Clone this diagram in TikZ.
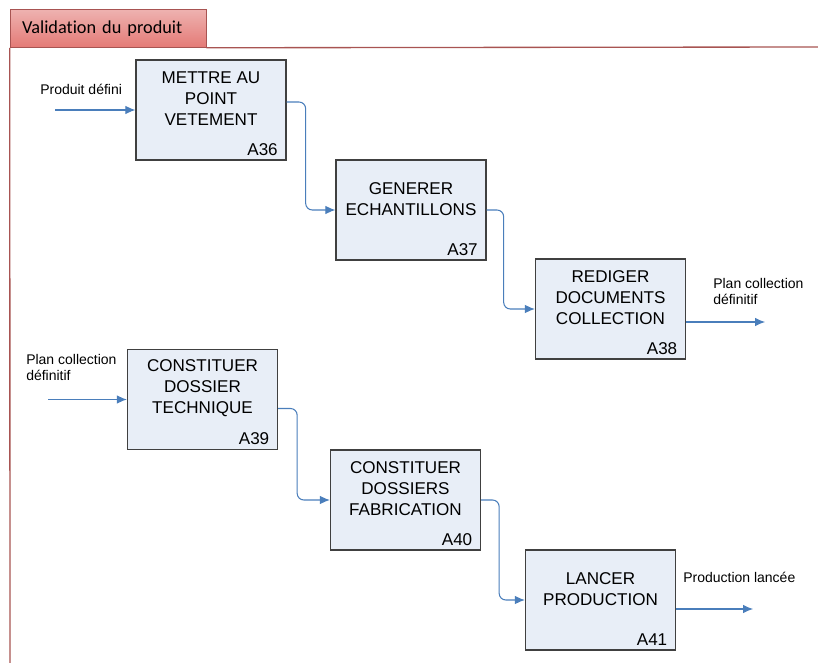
\documentclass[tikz,border=0pt]{standalone}
\usepackage{fontspec}
\setmainfont{Liberation Sans}
\newfontfamily\titlefont[Ligatures=NoCommon]{Carlito}
\usetikzlibrary{arrows.meta, positioning, calc}
\definecolor{boxfill}{RGB}{232,238,247}
\definecolor{boxline}{RGB}{64,64,64}
\definecolor{flowblue}{RGB}{74,126,187}
\definecolor{framered}{RGB}{168,84,82}
\definecolor{tabtop}{RGB}{238,178,176}
\definecolor{tabmid}{RGB}{198,76,72}
\definecolor{tabbot}{RGB}{228,122,118}

\begin{document}
\begin{tikzpicture}[x=0.75pt, y=-0.75pt,
  act/.style={draw=boxline, fill=boxfill, line width=1pt, minimum width=112.5pt, minimum height=75pt, inner sep=0pt},
  acttext/.style={align=center, font=\fontsize{12.8}{15.75}\selectfont},
  code/.style={anchor=base east, inner sep=0pt, font=\fontsize{12.8}{15}\selectfont},
  flow/.style={draw=flowblue, line width=0.8pt, rounded corners=5pt, -{Latex[length=7.5pt,width=6.5pt]}},
  lbl/.style={anchor=north west, inner sep=0pt, align=left, font=\fontsize{10.5}{12}\selectfont},
  frame/.style={framered, line width=1pt}]
\useasboundingbox (0,0) rectangle (818,663);
% Header tab + frame
\node[draw=framered, top color=tabtop, middle color=tabmid, bottom color=tabbot, text width=129pt, inner xsep=9pt, minimum height=28.5pt, inner ysep=0pt, align=left, font=\titlefont\fontsize{13.7}{16}\selectfont] (tab) at (108,28.5) {Validation du produit};
\draw[frame] (tab.south east) -- (818,47);
\draw[frame] (tab.south west) -- (10,663);
% Activities
\node[act] (A36) at (211,110) {};
\node[act] (A37) at (411,210) {};
\node[act] (A38) at (610.5,309) {};
\node[act] (A39) at (202.5,399.5) {};
\node[act] (A40) at (405.5,500) {};
\node[act] (A41) at (600.5,600) {};
\node[acttext] (A36t) at ([yshift=8.5pt]A36.center) {METTRE AU\\POINT\\VETEMENT};
\node[acttext] (A37t) at ([yshift=8.5pt]A37.center) {GENERER\\ECHANTILLONS};
\node[acttext] (A38t) at ([yshift=8.5pt]A38.center) {REDIGER\\DOCUMENTS\\COLLECTION};
\node[acttext] (A39t) at ([yshift=8.5pt]A39.center) {CONSTITUER\\DOSSIER\\TECHNIQUE};
\node[acttext] (A40t) at ([yshift=8.5pt]A40.center) {CONSTITUER\\DOSSIERS\\FABRICATION};
\node[acttext] (A41t) at ([yshift=8.5pt]A41.center) {LANCER\\PRODUCTION};
\node[code] (A36c) at ([xshift=-6.5pt, yshift=4pt]A36.south east) {A36};
\node[code] (A37c) at ([xshift=-6.5pt, yshift=4pt]A37.south east) {A37};
\node[code] (A38c) at ([xshift=-6.5pt, yshift=4pt]A38.south east) {A38};
\node[code] (A39c) at ([xshift=-6.5pt, yshift=4pt]A39.south east) {A39};
\node[code] (A40c) at ([xshift=-6.5pt, yshift=4pt]A40.south east) {A40};
\node[code] (A41c) at ([xshift=-6.5pt, yshift=4pt]A41.south east) {A41};
% Inputs / outputs
\coordinate (in36) at (55,110);
\coordinate (in39) at (48,399.5);
\coordinate (out38) at (765,322);
\coordinate (out41) at (753,609);
\node[lbl] (l36) at (40,84) {Produit défini};
\node[lbl] (l39) at (26,354) {Plan collection\\définitif};
\node[lbl] (l38) at (713,278) {Plan collection\\définitif};
\node[lbl] (l41) at (683,572) {Production lancée};
\draw[flow] (in36) -- (A36.west);
\draw[flow] (in39) -- (A39.west);
\draw[flow] ([yshift=-9.75pt]A38.east) -- (out38);
\draw[flow] ([yshift=-6.75pt]A41.east) -- (out41);
% Links
\draw[flow] ([yshift=6pt]A36.east) -- ++(19,0) |- (A37.west);
\draw[flow] (A37.east) -- ++(17,0) |- (A38.west);
\draw[flow] ([yshift=-6.75pt]A39.east) -- ++(19,0) |- (A40.west);
\draw[flow] (A40.east) -- ++(18,0) |- (A41.west);
\end{tikzpicture}
\end{document}
